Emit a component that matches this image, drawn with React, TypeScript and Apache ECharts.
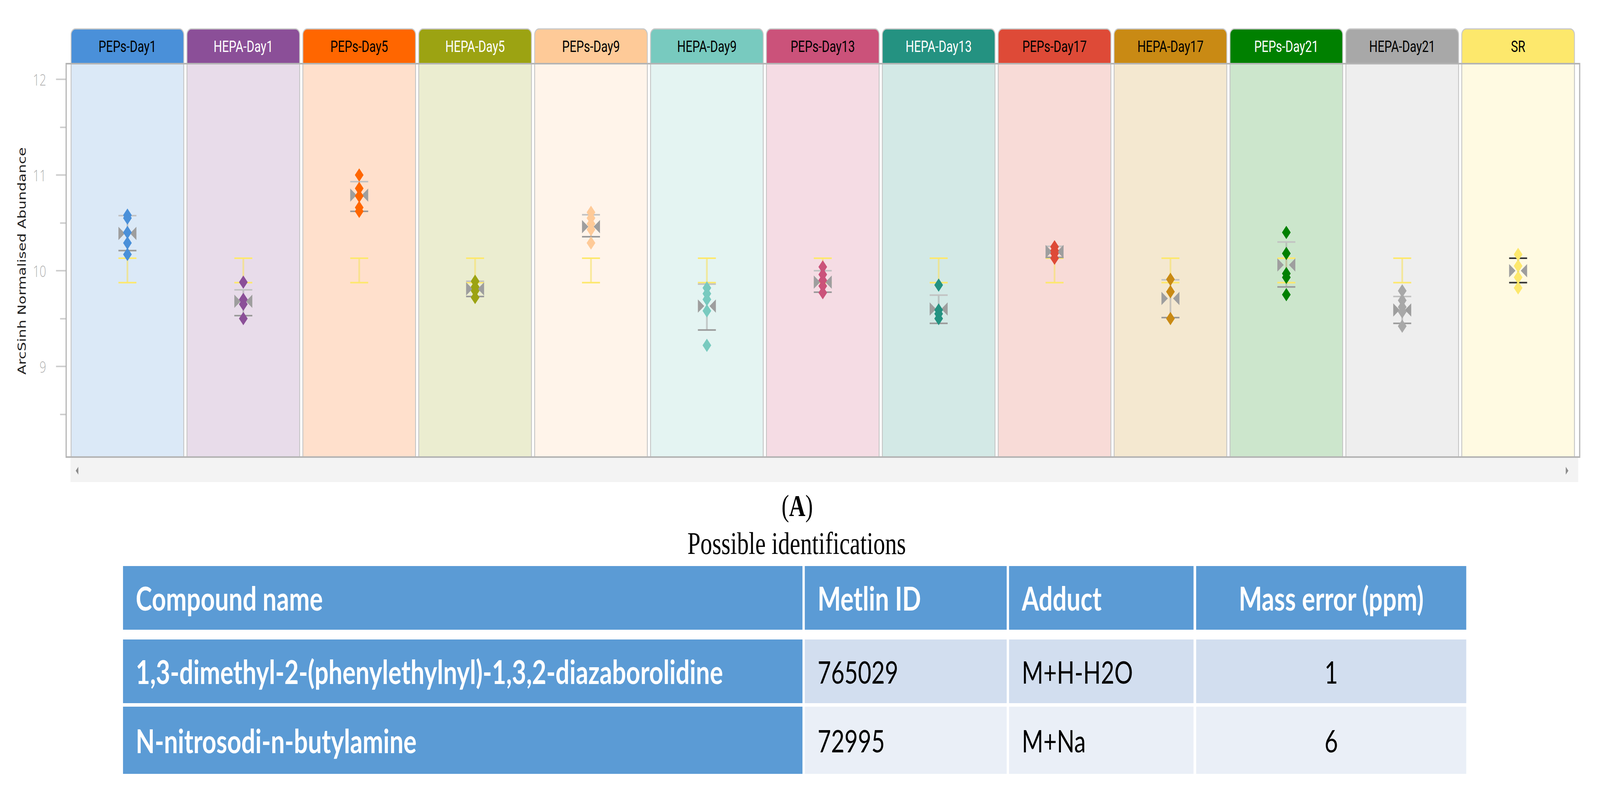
import React, { useEffect, useRef, useState } from "react";
import * as echarts from "echarts";

// ---------- data ----------
const categories = [
  "PEPs-Day1", "HEPA-Day1", "PEPs-Day5", "HEPA-Day5", "PEPs-Day9", "HEPA-Day9", "PEPs-Day13",
  "HEPA-Day13", "PEPs-Day17", "HEPA-Day17", "PEPs-Day21", "HEPA-Day21", "SR",
];
const groupColors = [
  "#4A90D9", "#8B4F98", "#FF6600", "#9CA312", "#FECA98", "#78CABF", "#CB527A",
  "#249281", "#DE4A37", "#C98A14", "#008000", "#A8A8A8", "#FDE86C",
];
const tabTextColors = [
  "#000000", "#ffffff", "#000000", "#ffffff", "#000000", "#000000", "#000000",
  "#ffffff", "#000000", "#000000", "#ffffff", "#000000", "#000000",
];
const sampleValues = [
  [10.58, 10.55, 10.4, 10.29, 10.17],
  [9.88, 9.7, 9.65, 9.5],
  [11.0, 10.86, 10.78, 10.66, 10.62],
  [9.89, 9.83, 9.79, 9.72],
  [10.61, 10.55, 10.49, 10.43, 10.29],
  [9.82, 9.76, 9.7, 9.58, 9.22],
  [10.04, 9.96, 9.9, 9.84, 9.77],
  [9.85, 9.59, 9.55, 9.5],
  [10.25, 10.21, 10.18, 10.13],
  [9.91, 9.78, 9.5],
  [10.4, 10.18, 9.97, 9.93, 9.75],
  [9.79, 9.69, 9.62, 9.57, 9.42],
  [10.17, 10.05, 9.93, 9.82],
];
const groupMeans = [10.39, 9.68, 10.79, 9.81, 10.46, 9.63, 9.88, 9.6, 10.2, 9.71, 10.06, 9.59, 10.0];
const sdLow = [10.21, 9.53, 10.62, 9.73, 10.355, 9.38, 9.775, 9.45, 10.14, 9.51, 9.83, 9.45, 9.875];
const sdHigh = [10.575, 9.8, 10.93, 9.89, 10.585, 9.86, 10.0, 9.745, 10.255, 9.905, 10.3, 9.73, 10.13];
const srRange = [9.875, 10.13];
const yMajorTicks = [9, 10, 11, 12];
const yMinorTicks = [8.5, 9.5, 10.5, 11.5];
const yAxisTitle = "ArcSinh Normalised Abundance";

const tableHeaders = ["Compound name", "Metlin ID", "Adduct", "Mass error (ppm)"];
const compoundNames = ["1,3-dimethyl-2-(phenylethylnyl)-1,3,2-diazaborolidine", "N-nitrosodi-n-butylamine"];
const metlinIds = ["765029", "72995"];
const adducts = ["M+H-H2O", "M+Na"];
const massErrors = ["1", "6"];

// ---------- layout ----------
const W = 5515;
const H = 2030;
const GRID_LEFT = 239.5;
const GRID_RIGHT_EDGE = 5432.5;
const GRID_TOP = 163;
const GRID_BOTTOM_EDGE = 1170;
const TAB_H = 89;
const PANEL_GAP = 11;
const Y_MIN = 8.053;
const Y_MAX = 12.163;

const colX = [[424, 2766], [2774, 3470], [3478, 4114], [4123, 5054]];
const rowY = [[1449, 1612], [1637, 1800], [1809, 1981]];
const TABLE_FONT = "Lato";

function buildTable(): any[] {
  const els: any[] = [];
  const rows = [
    tableHeaders,
    ...compoundNames.map((n, i) => [n, metlinIds[i], adducts[i], massErrors[i]]),
  ];
  const bodyFills = ["#D2DEEF", "#EAEFF7"];
  rows.forEach((row, r) => {
    row.forEach((txt, c) => {
      const [x0, x1] = colX[c];
      const [y0, y1] = rowY[r];
      const blue = r === 0 || c === 0;
      els.push({
        type: "rect",
        shape: { x: x0, y: y0, width: x1 - x0, height: y1 - y0 },
        style: { fill: blue ? "#5B9BD5" : bodyFills[r - 1] },
        z: 1,
      });
      const center = c === 3;
      els.push({
        type: "text",
        x: center ? (x0 + x1) / 2 : x0 + 44,
        y: (y0 + y1) / 2,
        style: {
          text: txt,
          fill: blue ? "#ffffff" : "#000000",
          fontFamily: TABLE_FONT,
          fontSize: blue ? 85 : 80,
          fontWeight: blue ? "bold" : "normal",
          align: center ? "center" : "left",
          verticalAlign: "middle",
        },
        z: 2,
      });
    });
  });
  return els;
}

function viewportScale() {
  if (typeof window === "undefined") return { sx: 1, sy: 1 };
  const vw = window.innerWidth || W;
  const vh = window.innerHeight || H;
  return { sx: vw / W, sy: vh / H };
}

export default function App() {
  const ref = useRef<HTMLDivElement>(null);
  const [scale, setScale] = useState(viewportScale());

  useEffect(() => {
    const onResize = () => setScale(viewportScale());
    window.addEventListener("resize", onResize);
    return () => window.removeEventListener("resize", onResize);
  }, []);

  useEffect(() => {
    if (!ref.current) return;
    const chart = echarts.init(ref.current, null, { renderer: "svg", width: W, height: H });

    const panelSeries = {
      type: "custom",
      z: 1,
      clip: false,
      silent: true,
      encode: { x: 0, y: 1 },
      data: categories.map((_, i) => [i, 10]),
      renderItem: (params: any, api: any) => {
        const i = api.value(0);
        const cs = params.coordSys;
        const cx = api.coord([i, 10])[0];
        const bw = api.size([1, 0])[0];
        const w = bw - PANEL_GAP;
        const x = cx - w / 2;
        return {
          type: "group",
          children: [
            {
              type: "rect",
              shape: { x, y: cs.y, width: w, height: cs.height },
              style: { fill: echarts.color.modifyAlpha(groupColors[i], 0.2), stroke: "#c4c4c4", lineWidth: 3 },
            },
            {
              type: "rect",
              shape: { x, y: cs.y - TAB_H, width: w, height: TAB_H, r: [15, 15, 0, 0] },
              style: { fill: groupColors[i], stroke: "#c8c8c8", lineWidth: 3 },
            },
            {
              type: "text",
              x: cx,
              y: cs.y - TAB_H / 2,
              style: {
                text: categories[i],
                fill: tabTextColors[i],
                fontFamily: "Roboto",
                fontSize: 41,
                align: "center",
                verticalAlign: "middle",
              },
            },
          ],
        };
      },
    };

    const errorRender = (kind: "sr" | "sd") => (params: any, api: any) => {
      const i = api.value(0);
      const lo = api.coord([i, api.value(1)]);
      const hi = api.coord([i, api.value(2)]);
      const half = 31;
      let vColor: string, topColor: string, botColor: string;
      if (kind === "sr") {
        vColor = "rgba(246,226,110,0.65)";
        topColor = "#FDE86C";
        botColor = "#FDE86C";
      } else if (i === categories.length - 1) {
        vColor = "rgba(60,60,60,0.8)";
        topColor = "#333333";
        botColor = "#333333";
      } else {
        vColor = "rgba(170,170,170,0.6)";
        topColor = "#c2c2c2";
        botColor = "#9a9a9a";
      }
      return {
        type: "group",
        children: [
          { type: "line", shape: { x1: lo[0], y1: lo[1], x2: hi[0], y2: hi[1] }, style: { stroke: vColor, lineWidth: 6 } },
          { type: "line", shape: { x1: hi[0] - half, y1: hi[1], x2: hi[0] + half, y2: hi[1] }, style: { stroke: topColor, lineWidth: 4 } },
          { type: "line", shape: { x1: lo[0] - half, y1: lo[1], x2: lo[0] + half, y2: lo[1] }, style: { stroke: botColor, lineWidth: 4 } },
        ],
      };
    };

    const srSeries = {
      type: "custom",
      z: 2,
      silent: true,
      encode: { x: 0, y: [1, 2] },
      data: categories.slice(0, categories.length - 1).map((_, i) => [i, srRange[0], srRange[1]]),
      renderItem: errorRender("sr"),
    };
    const sdSeries = {
      type: "custom",
      z: 3,
      silent: true,
      encode: { x: 0, y: [1, 2] },
      data: sdLow.map((lo, i) => [i, lo, sdHigh[i]]),
      renderItem: errorRender("sd"),
    };
    const meanSeries = {
      type: "scatter",
      z: 4,
      silent: true,
      symbol: "path://M0,0L22,17L0,34ZM62,0L40,17L62,34Z",
      symbolSize: [62, 34],
      itemStyle: { color: "#9e9e9e", opacity: 1 },
      data: groupMeans.map((m, i) => [i, m]),
    };
    const sampleSeries = sampleValues.map((vals, i) => ({
      type: "scatter",
      name: categories[i],
      z: 5,
      silent: true,
      symbol: "diamond",
      symbolSize: [30, 34],
      itemStyle: { color: groupColors[i], opacity: 1 },
      data: vals.map((v) => [i, v]),
    }));

    const graphic: any[] = [
      {
        type: "rect",
        shape: { x: 228, y: GRID_TOP, width: 5445 - 228, height: GRID_BOTTOM_EDGE - GRID_TOP },
        style: { fill: "none", stroke: "#b4b4b4", lineWidth: 4 },
        z: 10,
      },
      {
        type: "rect",
        shape: { x: 243, y: 1172, width: 5197, height: 62 },
        style: { fill: "#f3f3f3" },
        z: 1,
      },
      {
        type: "polygon",
        shape: { points: [[261, 1205], [270, 1195], [270, 1215]] },
        style: { fill: "#8a8a8a" },
        z: 2,
      },
      {
        type: "polygon",
        shape: { points: [[5406, 1205], [5397, 1195], [5397, 1215]] },
        style: { fill: "#8a8a8a" },
        z: 2,
      },
      {
        type: "text",
        x: 77,
        y: 668,
        rotation: Math.PI / 2,
        style: {
          text: yAxisTitle,
          fill: "#1e1e1e",
          fontFamily: "DejaVu Sans",
          fontSize: 37,
          align: "center",
          verticalAlign: "middle",
        },
        z: 2,
      },
      {
        type: "text",
        x: 2748,
        y: 1295,
        style: {
          text: "{p|(}{b|A}{p|)}",
          rich: {
            p: { fontFamily: "Liberation Serif", fontSize: 78, fill: "#000" },
            b: { fontFamily: "Liberation Serif", fontSize: 78, fontWeight: "bold", fill: "#000" },
          },
          align: "center",
          verticalAlign: "middle",
        },
        z: 2,
      },
      {
        type: "text",
        x: 2746,
        y: 1390,
        style: {
          text: "Possible identifications",
          fill: "#000",
          fontFamily: "Liberation Serif",
          fontSize: 81,
          align: "center",
          verticalAlign: "middle",
        },
        z: 2,
      },
      ...buildTable(),
    ];

    const option: any = {
      animation: false,
      backgroundColor: "#ffffff",
      grid: {
        left: GRID_LEFT,
        right: W - GRID_RIGHT_EDGE,
        top: GRID_TOP,
        bottom: H - GRID_BOTTOM_EDGE,
        containLabel: false,
      },
      xAxis: {
        type: "category",
        data: categories,
        show: false,
      },
      yAxis: [
        {
          type: "value",
          min: Y_MIN,
          max: Y_MAX,
          offset: 11.5,
          position: "left",
          axisLine: { show: false },
          splitLine: { show: false },
          axisTick: { show: true, length: 35, lineStyle: { color: "#cfcfcf", width: 4 }, customValues: yMajorTicks },
          axisLabel: {
            show: true,
            customValues: yMajorTicks,
            margin: 69,
            color: "#b0b0b0",
            fontSize: 40,
            fontFamily: "Open Sans",
            fontWeight: 300,
          },
        },
        {
          type: "value",
          min: Y_MIN,
          max: Y_MAX,
          offset: 11.5,
          position: "left",
          axisLine: { show: false },
          splitLine: { show: false },
          axisTick: { show: true, length: 21, lineStyle: { color: "#cfcfcf", width: 4 }, customValues: yMinorTicks },
          axisLabel: { show: false },
        },
      ],
      series: [panelSeries, srSeries, sdSeries, meanSeries, ...sampleSeries],
      graphic,
    };

    chart.setOption(option);
    return () => {
      chart.dispose();
    };
  }, []);

  return (
    <div
      style={{
        position: "fixed",
        left: 0,
        top: 0,
        width: W,
        height: H,
        overflow: "visible",
        transformOrigin: "0 0",
        transform: `scale(${scale.sx}, ${scale.sy})`,
        background: "#fff",
      }}
    >
      <div ref={ref} style={{ width: W, height: H }} />
    </div>
  );
}
